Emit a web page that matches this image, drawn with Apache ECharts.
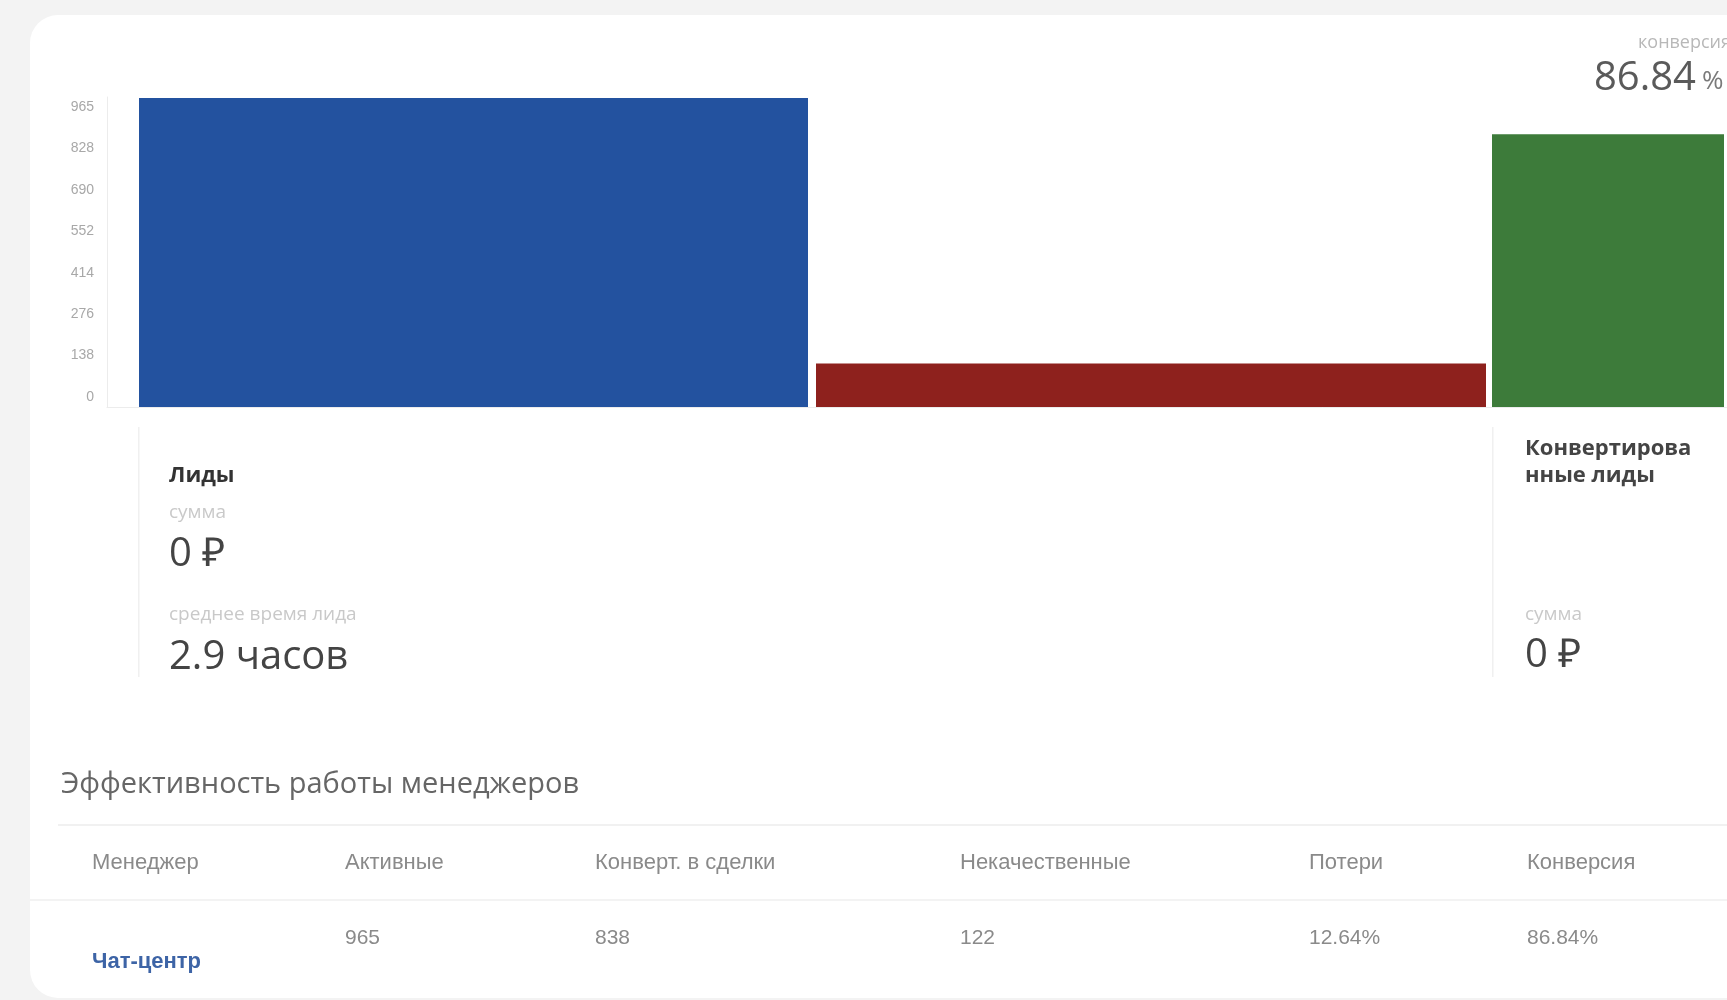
<!DOCTYPE html>
<html>
<head>
<meta charset="utf-8">
<script src="https://cdn.jsdelivr.net/npm/echarts@6/dist/echarts.min.js"></script>
<style>
html,body{margin:0;padding:0;background:#f3f3f3;}
#c{width:1727px;height:1000px;}
</style>
</head>
<body>
<div id="c"></div>
<script>
// ---- data ----
const categories = ['Лиды', 'Некачественные', 'Конвертированные лиды'];
const barValues = [965, 136, 852];
const yTickLabels = ['0', '138', '276', '414', '552', '690', '828', '965'];
const conversionLabel = 'конверсия';
const conversionValue = '86.84';
const leftPanel = { title: 'Лиды', sumLabel: 'сумма', sumValue: '0 ₽', timeLabel: 'среднее время лида', timeValue: '2.9 часов' };
const rightPanel = { title1: 'Конвертирова', title2: 'нные лиды', sumLabel: 'сумма', sumValue: '0 ₽' };
const tableTitle = 'Эффективность работы менеджеров';
const tableHeaders = ['Менеджер', 'Активные', 'Конверт. в сделки', 'Некачественные', 'Потери', 'Конверсия'];
const tableRow = ['Чат-центр', '965', '838', '122', '12.64%', '86.84%'];

// ---- layout ----
const barColors = ['#23529f', '#8e211d', '#3d7b3a'];
const barBoxes = [[139, 669], [816, 670], [1492, 232]];
const barTop = 98, barBottom = 407;
const colX = [92, 345, 595, 960, 1309, 1527];

const chart = echarts.init(document.getElementById('c'), null, { renderer: 'canvas' });

const grids = [], xAxes = [], yAxes = [], series = [];
barBoxes.forEach((b, i) => {
  grids.push({ left: b[0], width: b[1], top: barTop, height: barBottom - barTop, containLabel: false, outerBoundsMode: 'none' });
  xAxes.push({ type: 'category', gridIndex: i, data: [categories[i]], show: false });
  yAxes.push({ type: 'value', gridIndex: i, min: 0, max: 965, show: false });
  series.push({ type: 'bar', xAxisIndex: i, yAxisIndex: i, data: [barValues[i]], barWidth: '100%',
    itemStyle: { color: barColors[i] }, silent: true, z: 3 });
});
// frame lines
grids.push({ left: 107, right: 0, top: 97, height: 310, containLabel: false, outerBoundsMode: 'none' });
xAxes.push({ type: 'value', gridIndex: 3, min: 0, max: 1, axisLine: { show: true, lineStyle: { color: '#ececec' } }, axisTick: { show: false }, axisLabel: { show: false }, splitLine: { show: false } });
yAxes.push({ type: 'value', gridIndex: 3, min: 0, max: 1, axisLine: { show: true, lineStyle: { color: '#ececec' } }, axisTick: { show: false }, axisLabel: { show: false }, splitLine: { show: false } });
// tick label axis
grids.push({ left: 107, width: 10, top: 107, height: 290, containLabel: false, outerBoundsMode: 'none' });
xAxes.push({ type: 'value', gridIndex: 4, show: false });
yAxes.push({ type: 'category', gridIndex: 4, data: yTickLabels, boundaryGap: false,
  axisLine: { show: false }, axisTick: { show: false }, splitLine: { show: false },
  axisLabel: { show: true, margin: 13, color: '#a8a8a8', fontSize: 14, fontFamily: 'Liberation Sans Narrow, Liberation Sans, Arial', interval: 0 } });

function txt(x, y, text, font, fill, align, vAlign) {
  return { type: 'text', silent: true, z: 10, style: { x, y, text, font, fill, textAlign: align || 'left', textVerticalAlign: vAlign || 'middle' } };
}
const OS = '"Open Sans", sans-serif';
const LS = '"Liberation Sans", Arial, sans-serif';
const graphic = [
  { type: 'rect', silent: true, z: -10, shape: { x: 30, y: 15, width: 1800, height: 983, r: 28 }, style: { fill: '#ffffff' } },
  // panel separators
  { type: 'rect', silent: true, z: 1, shape: { x: 138, y: 427, width: 1.5, height: 250 }, style: { fill: '#f0f0f0' } },
  { type: 'rect', silent: true, z: 1, shape: { x: 1492, y: 427, width: 1.5, height: 250 }, style: { fill: '#f0f0f0' } },
  // conversion
  txt(1638, 43, conversionLabel, '18px ' + OS, '#b8b8b8'),
  txt(1594, 79, conversionValue, '40px ' + OS, '#5a5a5a'),
  txt(1702, 82, '%', '26px ' + OS, '#7a7a7a'),
  // left panel
  txt(169, 476, leftPanel.title, 'bold 22px ' + OS, '#333333'),
  txt(169, 513, leftPanel.sumLabel, '19px ' + OS, '#c9c9c9'),
  txt(169, 555, leftPanel.sumValue, '40px ' + OS, '#444444'),
  txt(169, 615, leftPanel.timeLabel, '19px ' + OS, '#c9c9c9'),
  txt(169, 658, leftPanel.timeValue, '40px ' + OS, '#444444'),
  // right panel
  txt(1525, 449, rightPanel.title1, 'bold 22px ' + OS, '#444444'),
  txt(1525, 476, rightPanel.title2, 'bold 22px ' + OS, '#444444'),
  txt(1525, 615, rightPanel.sumLabel, '19px ' + OS, '#c9c9c9'),
  txt(1525, 656, rightPanel.sumValue, '40px ' + OS, '#444444'),
  // table
  txt(61, 785, tableTitle, '29px ' + OS, '#666666'),
  { type: 'rect', silent: true, z: 1, shape: { x: 58, y: 824, width: 1700, height: 2 }, style: { fill: '#f1f1f1' } },
  { type: 'rect', silent: true, z: 1, shape: { x: 30, y: 899, width: 1700, height: 2 }, style: { fill: '#f3f3f3' } }
];
tableHeaders.forEach((h, i) => graphic.push(txt(colX[i], 863, h, '22px ' + LS, '#8a8a8a')));
tableRow.forEach((v, i) => {
  if (i === 0) graphic.push(txt(colX[i], 962, v, 'bold 22px ' + LS, '#3d64a6'));
  else graphic.push(txt(colX[i], 938, v, '21px ' + LS, '#8a8a8a'));
});

chart.setOption({
  backgroundColor: '#f3f3f3',
  animation: false,
  grid: grids,
  xAxis: xAxes,
  yAxis: yAxes,
  series: series,
  graphic: { elements: graphic }
});
</script>
</body>
</html>
